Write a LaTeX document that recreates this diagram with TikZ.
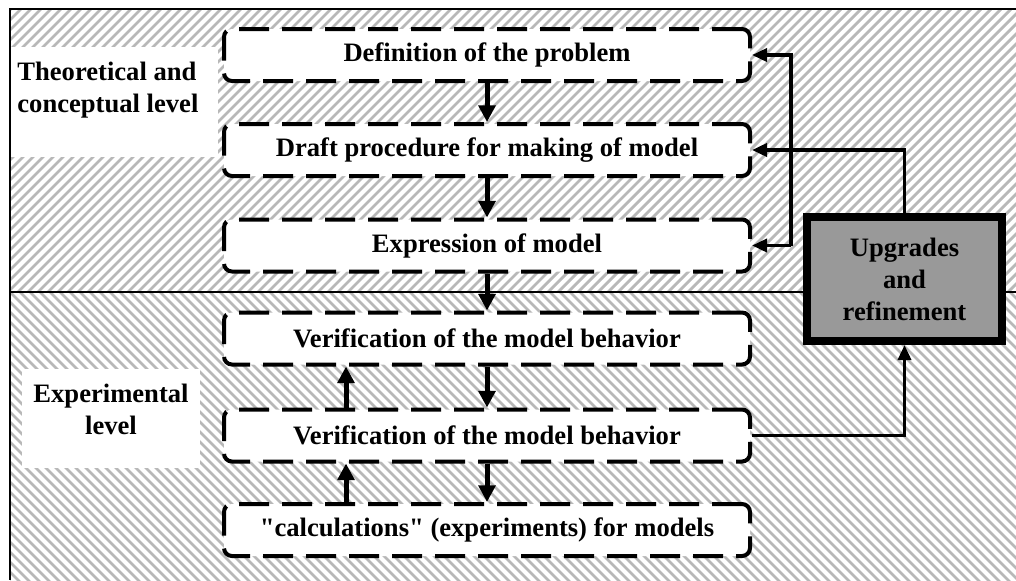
\documentclass[tikz,border=0pt]{standalone}
\usepackage{fontspec}
\setmainfont{Liberation Serif}[Ligatures=TeXOff]
\usetikzlibrary{arrows.meta,calc,positioning}

\newcommand{\boldtext}{\fontsize{13.3}{16}\selectfont\bfseries}

\tikzset{
	stepbox/.style={draw, line width=2pt, dash pattern=on 15pt off 6.5pt,
		rounded corners=4pt, fill=white, minimum width=263pt,
		minimum height=26pt, inner sep=0pt, font=\boldtext},
	upgbox/.style={draw, line width=4pt, fill=black!40, minimum width=97.5pt,
		minimum height=62pt, inner sep=0pt, align=center, font=\boldtext},
	lvltext/.style={inner sep=0pt, font=\boldtext},
	hatch/.style={line width=1.4pt, black!28},
	flowarr/.style={line width=2.5pt, -{Triangle[length=8.3pt,width=8.3pt]}},
	sidearr/.style={line width=1.75pt, -{Triangle[length=7.5pt,width=6.5pt]}}
}

\begin{document}
\begin{tikzpicture}[x=0.5pt, y=-0.5pt]
		\useasboundingbox (0,0) rectangle (1016,580);
		
		% hatched levels
		\begin{scope}
		\clip (10,9) rectangle (1016,292);
		\foreach \i in {0,10,...,1320}
		\draw[hatch] (\i,0) -- ({\i-300},300);
		\end{scope}
		\begin{scope}
		\clip (10,292) rectangle (1016,580);
		\foreach \i in {-300,-290,...,1020}
		\draw[hatch] (\i,292) -- ({\i+300},592);
		\end{scope}
		\draw[line width=1pt] (10,292) -- (1016,292);
		
		% level labels
		\fill[white] (10,47) rectangle (218,157);
		\node[lvltext, anchor=west, align=left] (theo) at (17,90) {Theoretical and\\conceptual level};
		\fill[white] (22,369) rectangle (200,468);
		\node[lvltext, align=center] (expt) at (111,409) {Experimental\\level};
		\draw[line width=1pt] (1016,9) -- (10,9) -- (10,580);
		
		% steps
		\node[stepbox] (def) at (487,55) {Definition of the problem};
		\node[stepbox] (draft) at (487,150) {Draft procedure for making of model};
		\node[stepbox] (expr) at (487,245.5) {Expression of model};
		\node[stepbox] (verA) at (487,338.5) {Verification of the model behavior};
		\node[stepbox] (verB) at (487,435.5) {Verification of the model behavior};
		\node[stepbox] (calcs) at (487,530) {"calculations" (experiments) for models};
		
		\node[upgbox] (upg) at (904.5,279) {Upgrades\\and\\refinement};
		
		\draw[flowarr] (def) -- (draft);
		\draw[flowarr] (draft) -- (expr);
		\draw[flowarr] (expr) -- (verA);
		\draw[flowarr] (verA) -- (verB);
		\draw[flowarr] (verB) -- (calcs);
		\draw[flowarr] ([xshift=-70.5pt]verB.north) -- ([xshift=-70.5pt]verA.south);
		\draw[flowarr] ([xshift=-70.5pt]calcs.north) -- ([xshift=-70.5pt]verB.south);
		
		% feedback
		\coordinate (brk) at (791,0);
		\draw[sidearr] (brk |- expr.east) -- (brk |- def.east) -- (def.east);
		\draw[sidearr] (brk |- expr.east) -- (expr.east);
		\draw[sidearr] (upg.north) |- (draft.east);
		\draw[sidearr] (verB.east) -| (upg.south);
\end{tikzpicture}
\end{document}
